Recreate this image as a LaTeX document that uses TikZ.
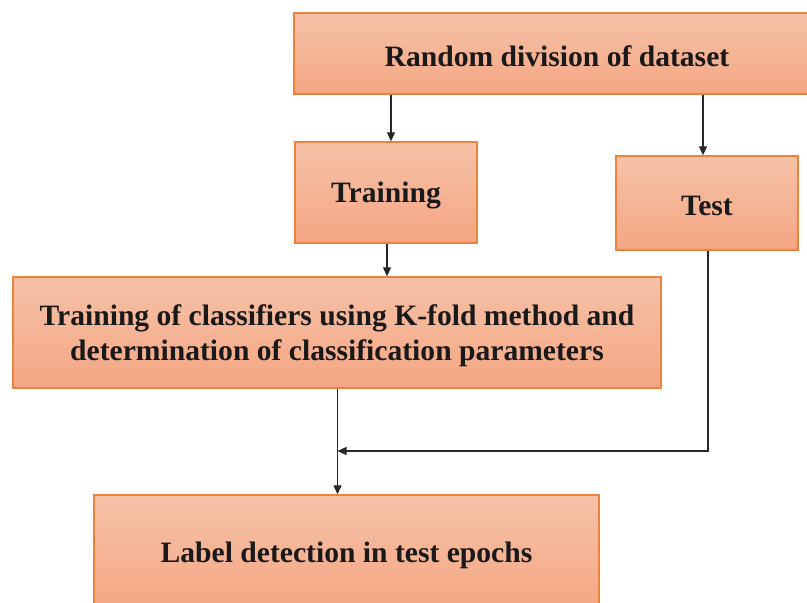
\documentclass[tikz,border=0pt]{standalone}
\usepackage{fontspec}
\setmainfont{Liberation Serif}
\usetikzlibrary{arrows.meta}
\definecolor{boxtop}{RGB}{246,194,168}
\definecolor{boxbot}{RGB}{244,166,131}
\definecolor{boxline}{RGB}{238,130,60}
\tikzset{
  box/.style={draw=boxline, line width=1.4pt, top color=boxtop, bottom color=boxbot,
    rectangle, inner sep=0pt},
  txt/.style={align=center, inner sep=0pt, text=black!90,
    font=\fontsize{29.6}{35}\selectfont\bfseries},
  arr/.style={draw=black!85, line width=1.1pt, -{Triangle[length=9pt,width=8pt]}}
}
\begin{document}
\begin{tikzpicture}[x=1pt,y=-1pt]
\useasboundingbox (0,0) rectangle (807,603);
\clip (0,0) rectangle (807,603);
\node[box, minimum width=526pt, minimum height=81pt] (top) at (557,53.5) {};
\node[box, minimum width=182pt, minimum height=101pt] (train) at (386,192.5) {};
\node[box, minimum width=182pt, minimum height=94pt] (test) at (707,203) {};
\node[box, minimum width=648pt, minimum height=111pt] (cls) at (337,332.5) {};
\node[box, minimum width=505pt, minimum height=117pt] (lab) at (346.5,553.5) {};
\node[txt] (ttop) at ([yshift=-3pt]top.center) {Random division of dataset};
\node[txt] (ttrain) at ([yshift=-3pt]train.center) {Training};
\node[txt] (ttest) at ([yshift=-3pt]test.center) {Test};
\node[txt] (tcls) at ([yshift=-3pt]cls.center) {Training of classifiers using K-fold method and\\determination of classification parameters};
\node[txt] (tlab) at ([yshift=-2pt]lab.center) {Label detection in test epochs};
\coordinate (c1) at (391,0);
\coordinate (c2) at (703,0);
\coordinate (c3) at (387,0);
\coordinate (c4) at (337.5,0);
\coordinate (c5) at (708,0);
\coordinate (j) at (337.5,451);
\draw[arr] (top.south -| c1) -- (train.north -| c1);
\draw[arr] (top.south -| c2) -- (test.north -| c2);
\draw[arr] (train.south -| c3) -- (cls.north -| c3);
\draw[arr] (cls.south -| c4) -- (lab.north -| c4);
\draw[arr] (test.south -| c5) |- (j);
\end{tikzpicture}
\end{document}
